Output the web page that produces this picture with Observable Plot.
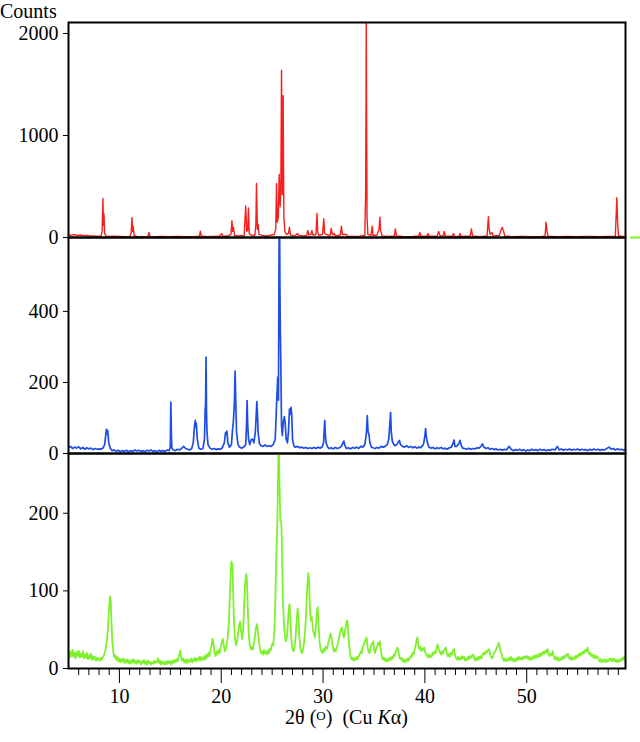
<!DOCTYPE html>
<html><head><meta charset="utf-8">
<script src="https://cdn.jsdelivr.net/npm/d3@7"></script>
<script src="https://cdn.jsdelivr.net/npm/@observablehq/plot@0.6"></script>
<style>
body{margin:0;background:#fff;font-family:"Liberation Serif",serif;}
#wrap{position:relative;width:640px;height:742px;overflow:hidden;}
.panel{position:absolute;left:0;}
.panel svg{overflow:visible;display:block;}
.panel svg, .panel svg text{font-family:"Liberation Serif",serif !important;}
</style></head><body>
<div id="wrap">
<div id="p1" class="panel" style="top:0"></div>
<div id="p2" class="panel" style="top:237px"></div>
<div id="p3" class="panel" style="top:453px"></div>
<div style="position:absolute;left:0;top:0;font-size:20px;line-height:normal;">Counts</div>
<div style="position:absolute;top:708px;left:68px;width:557px;text-align:center;font-size:20px;line-height:18px;">2θ (<span style="font-size:13px;position:relative;top:-4px;">O</span>)&nbsp;&nbsp;(Cu <i>K</i>α)</div>
</div>
<script>
// ---- data: 2θ (deg), counts ----
const red = [[5.0,25],[5.3,22],[5.6,28],[5.9,20],[6.2,24],[6.5,18],[6.8,20],[7.1,15],[7.4,14],[7.7,12],[8.0,12],[8.2,15],[8.3,60],[8.38,382],[8.43,120],[8.48,235],[8.55,40],[8.7,12],[9.0,10],[9.5,12],[10.0,10],[10.5,8],[11.0,10],[11.15,40],[11.23,195],[11.3,60],[11.35,110],[11.45,20],[11.7,10],[12.3,8],[12.8,10],[12.9,50],[13.0,10],[13.5,8],[14.2,10],[15.0,8],[15.8,10],[16.5,8],[17.2,9],[17.85,12],[17.95,62],[18.05,15],[18.6,8],[19.2,10],[19.8,12],[20.05,38],[20.15,12],[20.6,14],[20.95,30],[21.05,165],[21.12,60],[21.2,100],[21.3,20],[21.8,15],[22.25,20],[22.4,310],[22.5,60],[22.6,70],[22.67,290],[22.75,40],[22.9,25],[23.3,20],[23.4,120],[23.46,530],[23.55,80],[23.62,130],[23.7,30],[24.0,20],[24.4,15],[24.8,22],[25.2,30],[25.35,80],[25.43,530],[25.5,150],[25.6,200],[25.69,620],[25.78,300],[25.85,450],[25.92,1640],[26.0,420],[26.08,1390],[26.15,200],[26.25,60],[26.4,30],[26.6,40],[26.7,100],[26.8,25],[27.2,15],[27.5,40],[27.6,20],[28.0,15],[28.4,20],[28.5,70],[28.6,25],[28.8,30],[28.9,70],[29.0,25],[29.3,30],[29.4,235],[29.48,50],[29.6,20],[29.95,30],[30.07,185],[30.15,40],[30.5,20],[30.7,25],[30.8,90],[30.9,25],[31.1,40],[31.2,15],[31.7,25],[31.8,110],[31.9,30],[32.3,30],[32.4,12],[33.0,10],[33.6,12],[34.1,20],[34.18,430],[34.22,1340],[34.24,2200],[34.27,1340],[34.32,200],[34.4,30],[34.7,20],[34.83,110],[34.9,20],[35.3,25],[35.5,80],[35.58,200],[35.65,70],[35.8,15],[36.5,10],[37.0,15],[37.1,85],[37.2,15],[38.0,8],[38.8,10],[39.4,15],[39.5,50],[39.6,12],[40.2,12],[40.3,40],[40.4,12],[41.2,15],[41.35,60],[41.5,15],[41.8,15],[41.9,60],[42.0,15],[42.7,12],[42.8,40],[42.9,12],[43.35,10],[43.45,40],[43.55,10],[44.45,15],[44.57,85],[44.67,15],[45.4,8],[46.1,15],[46.24,205],[46.3,90],[46.4,30],[46.6,50],[46.7,15],[47.3,20],[47.5,80],[47.6,100],[47.7,70],[47.85,15],[48.5,8],[49.5,10],[50.5,8],[51.5,10],[51.8,15],[51.9,150],[52.0,60],[52.1,12],[53.0,8],[54.0,10],[55.0,8],[56.0,10],[57.0,8],[58.0,10],[58.7,12],[58.85,390],[58.92,165],[59.0,20],[59.3,10],[59.7,10]];

const blue = [[5.0,16],[5.2,20],[5.4,14],[5.6,18],[5.8,15],[6.0,19],[6.2,13],[6.4,17],[6.6,12],[6.8,16],[7.0,13],[7.2,15],[7.4,11],[7.6,14],[7.8,12],[8.0,13],[8.2,12],[8.4,16],[8.55,25],[8.65,50],[8.72,68],[8.8,55],[8.85,65],[8.95,30],[9.1,15],[9.3,8],[9.5,10],[9.7,6],[9.9,9],[10.1,5],[10.3,8],[10.5,6],[10.7,9],[10.9,5],[11.1,8],[11.3,6],[11.5,10],[11.7,7],[11.9,9],[12.1,6],[12.3,8],[12.5,5],[12.7,9],[12.9,7],[13.1,10],[13.3,6],[13.5,8],[13.7,5],[13.9,9],[14.1,6],[14.3,8],[14.5,6],[14.7,10],[14.9,8],[15.0,20],[15.05,145],[15.1,60],[15.15,15],[15.3,10],[15.5,8],[15.7,12],[15.9,10],[16.1,14],[16.3,20],[16.5,14],[16.7,12],[16.9,10],[17.1,14],[17.25,30],[17.38,80],[17.45,93],[17.5,75],[17.55,85],[17.65,40],[17.8,15],[18.0,12],[18.2,14],[18.35,40],[18.42,120],[18.46,140],[18.51,271],[18.55,120],[18.6,60],[18.7,25],[18.9,15],[19.1,12],[19.3,14],[19.5,11],[19.7,13],[19.9,12],[20.1,16],[20.3,30],[20.42,58],[20.48,60],[20.52,55],[20.56,63],[20.65,30],[20.8,18],[21.0,25],[21.12,70],[21.2,93],[21.3,150],[21.36,232],[21.42,155],[21.5,60],[21.65,25],[21.8,18],[22.0,15],[22.2,18],[22.4,25],[22.48,78],[22.54,149],[22.6,78],[22.68,40],[22.8,25],[22.95,40],[23.1,40],[23.2,30],[23.35,60],[23.42,100],[23.5,146],[23.56,110],[23.62,60],[23.75,28],[23.9,22],[24.1,20],[24.3,24],[24.5,20],[24.7,22],[24.9,20],[25.1,25],[25.3,40],[25.45,150],[25.55,215],[25.62,150],[25.68,608],[25.72,700],[25.76,480],[25.8,350],[25.85,260],[25.92,80],[26.0,50],[26.1,90],[26.2,104],[26.28,85],[26.38,40],[26.5,30],[26.6,60],[26.7,125],[26.77,110],[26.85,130],[26.92,110],[27.0,40],[27.15,20],[27.3,18],[27.5,20],[27.7,16],[27.9,18],[28.1,15],[28.3,17],[28.5,14],[28.7,16],[28.9,14],[29.1,17],[29.3,14],[29.5,18],[29.7,15],[29.9,18],[30.05,30],[30.12,70],[30.17,93],[30.22,55],[30.3,30],[30.45,18],[30.6,14],[30.8,16],[31.0,13],[31.2,17],[31.4,14],[31.6,16],[31.8,20],[31.95,30],[32.04,35],[32.15,22],[32.3,14],[32.5,16],[32.7,13],[32.9,17],[33.1,15],[33.3,18],[33.5,14],[33.7,20],[33.9,18],[34.1,25],[34.25,55],[34.34,107],[34.42,60],[34.5,55],[34.6,30],[34.75,18],[34.9,16],[35.1,14],[35.3,17],[35.5,15],[35.7,20],[35.9,18],[36.1,20],[36.3,25],[36.45,40],[36.55,80],[36.63,116],[36.7,60],[36.8,35],[36.95,25],[37.1,22],[37.3,28],[37.5,37],[37.6,25],[37.8,20],[38.0,18],[38.2,22],[38.4,17],[38.6,20],[38.8,16],[39.0,19],[39.2,15],[39.4,18],[39.6,16],[39.85,25],[39.98,45],[40.07,70],[40.15,45],[40.25,30],[40.4,18],[40.6,15],[40.8,17],[41.0,13],[41.2,16],[41.4,14],[41.6,17],[41.8,13],[42.0,15],[42.2,12],[42.4,16],[42.6,18],[42.75,28],[42.86,38],[42.95,20],[43.1,20],[43.3,26],[43.45,37],[43.55,25],[43.7,15],[43.9,14],[44.1,12],[44.3,15],[44.5,12],[44.7,14],[44.9,13],[45.1,16],[45.3,15],[45.5,20],[45.65,27],[45.8,18],[46.0,14],[46.2,16],[46.4,12],[46.6,14],[46.8,11],[47.0,13],[47.2,10],[47.4,12],[47.6,9],[47.8,12],[48.0,10],[48.27,20],[48.5,11],[48.7,8],[48.9,11],[49.1,9],[49.3,12],[49.5,8],[49.7,11],[49.9,7],[50.1,10],[50.3,8],[50.5,12],[50.7,9],[50.9,11],[51.1,8],[51.3,12],[51.5,9],[51.7,11],[51.9,8],[52.1,10],[52.3,9],[52.5,12],[52.8,10],[53.0,20],[53.2,10],[53.4,13],[53.6,9],[53.8,12],[54.0,10],[54.2,13],[54.4,9],[54.6,12],[54.8,10],[55.0,13],[55.2,9],[55.4,12],[55.6,10],[55.8,11],[56.0,8],[56.2,12],[56.4,9],[56.6,13],[56.8,10],[57.0,12],[57.2,9],[57.4,11],[57.6,10],[57.8,13],[58.1,18],[58.3,12],[58.5,14],[58.7,10],[58.9,13],[59.1,11],[59.3,12],[59.5,9],[59.7,11]];

const green = [[5.0,18],[5.1,14],[5.2,22],[5.3,16],[5.4,24],[5.5,15],[5.6,20],[5.7,13],[5.8,21],[5.9,16],[6.0,23],[6.1,14],[6.2,19],[6.3,15],[6.4,22],[6.5,13],[6.6,18],[6.7,14],[6.8,20],[6.9,12],[7.0,17],[7.1,13],[7.2,19],[7.3,11],[7.4,16],[7.5,12],[7.6,15],[7.7,10],[7.8,14],[7.9,11],[8.0,13],[8.1,10],[8.2,14],[8.3,12],[8.4,15],[8.5,18],[8.6,22],[8.7,30],[8.8,40],[8.9,55],[9.0,80],[9.08,93],[9.15,88],[9.22,60],[9.3,35],[9.4,22],[9.5,14],[9.6,17],[9.7,11],[9.8,15],[9.9,9],[10.0,13],[10.1,8],[10.2,12],[10.3,9],[10.4,13],[10.5,7],[10.6,11],[10.7,8],[10.8,12],[10.9,7],[11.0,10],[11.1,6],[11.2,11],[11.3,8],[11.4,12],[11.5,7],[11.6,10],[11.7,6],[11.8,11],[11.9,8],[12.0,10],[12.1,5],[12.2,9],[12.3,7],[12.4,11],[12.5,6],[12.6,9],[12.7,5],[12.8,10],[12.9,7],[13.0,9],[13.1,5],[13.2,8],[13.3,6],[13.4,10],[13.5,7],[13.6,9],[13.7,8],[13.8,13],[13.9,7],[14.0,10],[14.1,5],[14.2,9],[14.3,6],[14.4,8],[14.5,5],[14.6,9],[14.7,6],[14.8,10],[14.9,7],[15.0,9],[15.1,5],[15.2,10],[15.3,7],[15.4,11],[15.5,8],[15.6,12],[15.7,9],[15.8,14],[15.9,18],[15.98,23],[16.05,16],[16.15,10],[16.25,13],[16.35,8],[16.45,11],[16.55,7],[16.65,12],[16.75,8],[16.85,11],[16.95,9],[17.05,13],[17.15,8],[17.25,12],[17.35,10],[17.45,14],[17.55,9],[17.65,13],[17.75,11],[17.85,15],[17.95,10],[18.05,15],[18.15,12],[18.25,11],[18.35,16],[18.45,12],[18.55,18],[18.65,14],[18.75,20],[18.85,16],[18.95,24],[19.05,30],[19.15,38],[19.25,30],[19.35,20],[19.45,16],[19.55,22],[19.65,18],[19.75,24],[19.85,20],[19.95,28],[20.05,34],[20.15,38],[20.25,30],[20.35,22],[20.45,25],[20.55,32],[20.65,42],[20.75,60],[20.85,95],[20.95,130],[21.0,138],[21.05,125],[21.1,135],[21.15,110],[21.25,60],[21.35,38],[21.45,30],[21.55,35],[21.65,45],[21.75,55],[21.85,60],[21.95,48],[22.05,38],[22.15,50],[22.25,80],[22.35,110],[22.45,122],[22.52,115],[22.6,80],[22.7,45],[22.8,30],[22.9,25],[23.0,28],[23.1,24],[23.2,32],[23.3,40],[23.4,52],[23.5,57],[23.6,48],[23.7,35],[23.8,26],[23.9,20],[24.0,22],[24.1,18],[24.2,24],[24.3,19],[24.4,22],[24.5,18],[24.6,24],[24.7,20],[24.8,26],[24.9,24],[25.0,32],[25.1,30],[25.2,45],[25.3,80],[25.4,140],[25.5,182],[25.58,250],[25.65,300],[25.72,240],[25.8,190],[25.9,189],[25.97,150],[26.05,90],[26.15,60],[26.25,42],[26.35,35],[26.45,40],[26.55,60],[26.65,80],[26.72,83],[26.8,60],[26.9,35],[27.0,25],[27.1,22],[27.2,28],[27.3,40],[27.4,60],[27.5,77],[27.58,70],[27.65,45],[27.75,28],[27.85,22],[27.95,20],[28.05,26],[28.15,35],[28.25,50],[28.35,75],[28.45,105],[28.55,123],[28.62,115],[28.7,80],[28.8,62],[28.9,66],[29.0,50],[29.1,45],[29.2,40],[29.3,55],[29.4,75],[29.48,79],[29.55,60],[29.65,35],[29.75,25],[29.85,22],[29.95,20],[30.05,25],[30.15,22],[30.25,28],[30.35,25],[30.45,30],[30.55,35],[30.65,40],[30.75,45],[30.85,38],[30.95,28],[31.05,22],[31.15,25],[31.25,22],[31.35,28],[31.45,32],[31.55,38],[31.65,45],[31.75,50],[31.85,53],[31.95,45],[32.05,40],[32.15,48],[32.25,55],[32.35,62],[32.42,58],[32.5,40],[32.6,25],[32.7,15],[32.8,12],[32.9,14],[33.0,10],[33.1,13],[33.2,11],[33.3,15],[33.4,12],[33.5,16],[33.6,18],[33.7,22],[33.8,20],[33.9,28],[34.0,30],[34.1,35],[34.2,38],[34.27,40],[34.35,30],[34.45,22],[34.55,20],[34.65,25],[34.75,30],[34.85,33],[34.93,35],[35.0,26],[35.1,20],[35.2,25],[35.3,28],[35.4,33],[35.5,30],[35.58,35],[35.65,25],[35.75,18],[35.85,12],[35.95,14],[36.05,10],[36.15,13],[36.25,9],[36.35,12],[36.45,10],[36.55,14],[36.65,11],[36.75,15],[36.85,13],[36.95,18],[37.05,16],[37.15,22],[37.25,25],[37.3,27],[37.4,22],[37.5,15],[37.6,12],[37.7,14],[37.8,9],[37.9,12],[38.0,8],[38.1,11],[38.2,9],[38.3,13],[38.4,10],[38.5,14],[38.6,16],[38.7,15],[38.8,20],[38.9,18],[39.0,25],[39.1,30],[39.2,38],[39.26,40],[39.35,30],[39.45,25],[39.55,28],[39.65,22],[39.75,26],[39.85,24],[39.95,27],[40.05,20],[40.15,18],[40.25,15],[40.35,18],[40.45,14],[40.55,17],[40.65,15],[40.75,20],[40.85,18],[40.95,22],[41.05,20],[41.15,26],[41.25,31],[41.35,25],[41.45,22],[41.55,18],[41.65,22],[41.75,19],[41.85,23],[41.95,25],[42.04,27],[42.15,20],[42.25,16],[42.35,19],[42.45,15],[42.55,20],[42.65,18],[42.75,23],[42.86,25],[42.95,18],[43.05,14],[43.15,12],[43.25,15],[43.35,11],[43.45,14],[43.55,12],[43.65,16],[43.75,13],[43.85,15],[43.95,10],[44.05,13],[44.15,11],[44.25,15],[44.35,12],[44.45,16],[44.55,14],[44.65,17],[44.76,18],[44.85,13],[44.95,10],[45.05,14],[45.15,11],[45.25,15],[45.35,12],[45.45,16],[45.55,13],[45.65,17],[45.75,20],[45.85,18],[45.95,22],[46.05,20],[46.15,23],[46.3,25],[46.4,20],[46.5,15],[46.6,13],[46.7,16],[46.8,20],[46.9,22],[47.0,25],[47.1,28],[47.2,30],[47.28,33],[47.35,27],[47.45,22],[47.55,18],[47.65,13],[47.75,10],[47.85,13],[47.95,9],[48.05,12],[48.15,10],[48.25,14],[48.35,11],[48.45,15],[48.55,10],[48.65,13],[48.75,9],[48.85,12],[48.95,10],[49.05,14],[49.15,11],[49.25,15],[49.35,12],[49.45,14],[49.55,11],[49.65,15],[49.75,13],[49.85,16],[49.95,14],[50.07,16],[50.15,12],[50.25,15],[50.35,11],[50.45,14],[50.55,12],[50.65,16],[50.75,13],[50.85,17],[50.95,14],[51.05,18],[51.15,15],[51.25,19],[51.35,16],[51.45,20],[51.55,18],[51.65,22],[51.75,19],[51.85,23],[51.95,21],[52.04,25],[52.15,18],[52.25,16],[52.35,19],[52.45,17],[52.56,22],[52.65,16],[52.75,12],[52.85,15],[52.95,11],[53.05,14],[53.15,10],[53.25,13],[53.35,11],[53.45,15],[53.55,12],[53.65,16],[53.75,14],[53.85,18],[53.95,16],[54.05,19],[54.15,14],[54.25,12],[54.35,15],[54.45,11],[54.55,14],[54.65,12],[54.75,16],[54.85,13],[54.95,17],[55.05,15],[55.15,19],[55.25,17],[55.35,20],[55.45,18],[55.55,22],[55.65,20],[55.75,24],[55.85,22],[55.97,27],[56.05,22],[56.15,18],[56.25,20],[56.35,16],[56.45,18],[56.55,14],[56.65,17],[56.75,13],[56.85,16],[56.95,15],[57.05,12],[57.15,9],[57.25,12],[57.35,8],[57.45,11],[57.55,9],[57.65,12],[57.75,8],[57.85,11],[57.95,9],[58.05,12],[58.15,10],[58.25,13],[58.35,9],[58.45,12],[58.55,10],[58.6,13],[58.7,9],[58.8,11],[58.9,8],[59.0,11],[59.1,9],[59.2,12],[59.3,10],[59.4,14],[59.5,12],[59.57,15],[59.65,13],[59.7,16]];

const xDomain = [5, 59.7];
const xMajorTicks = [10, 20, 30, 40, 50];
const xMinorTicks = [6,7,8,9,11,12,13,14,15,16,17,18,19,21,22,23,24,25,26,27,28,29,31,32,33,34,35,36,37,38,39,41,42,43,44,45,46,47,48,49,51,52,53,54,55,56,57,58,59];
const redTicks = [0, 1000, 2000];
const blueTicks = [0, 200, 400];
const greenTicks = [0, 100, 200];

const colors = {red: "#f5201e", blue: "#1f4de8", green: "#7ef02c"};
const font = {fontFamily: "Liberation Serif", fontSize: "20px", background: "none", overflow: "visible", color: "black"};
const common = {width: 640, marginLeft: 68, marginRight: 15, style: font};
const fx = ([x]) => x, fy = ([, y]) => y;

const yAxis = (ticks) => Plot.axisY(ticks, {tickSize: 5, tickPadding: 5, fontSize: 20, label: null, tickFormat: d => String(d)});

const p1 = Plot.plot({
  ...common, height: 237, marginTop: 22, marginBottom: 0,
  x: {domain: xDomain, axis: null},
  y: {domain: [0, 2108]},
  marks: [
    Plot.line(red, {x: fx, y: fy, stroke: colors.red, strokeWidth: 1.4, clip: true}),
    Plot.ruleY([0], {x1: 60.2, x2: 61.3, stroke: colors.green, strokeWidth: 2}),
    Plot.frame({stroke: "black", strokeWidth: 2}),
    yAxis(redTicks)
  ]
});
document.getElementById("p1").append(p1);

const p2 = Plot.plot({
  ...common, height: 216, marginTop: 0, marginBottom: 0,
  x: {domain: xDomain, axis: null},
  y: {domain: [0, 608]},
  marks: [
    Plot.line(blue, {x: fx, y: fy, stroke: colors.blue, strokeWidth: 1.7, clip: true}),
    Plot.frame({stroke: "black", strokeWidth: 2}),
    yAxis(blueTicks)
  ]
});
document.getElementById("p2").append(p2);

const p3 = Plot.plot({
  ...common, height: 289, marginTop: 0, marginBottom: 74,
  x: {domain: xDomain},
  y: {domain: [0, 277]},
  marks: [
    Plot.line(green, {x: fx, y: fy, stroke: colors.green, strokeWidth: 1.8, clip: true}),
    Plot.frame({stroke: "black", strokeWidth: 2}),
    yAxis(greenTicks),
    Plot.axisX(xMinorTicks, {tickSize: 7, tickFormat: () => "", label: null}),
    Plot.axisX(xMajorTicks, {tickSize: 15, tickPadding: 5, fontSize: 20, label: null, tickFormat: d => String(d)})
  ]
});
document.getElementById("p3").append(p3);
</script>
</body></html>
